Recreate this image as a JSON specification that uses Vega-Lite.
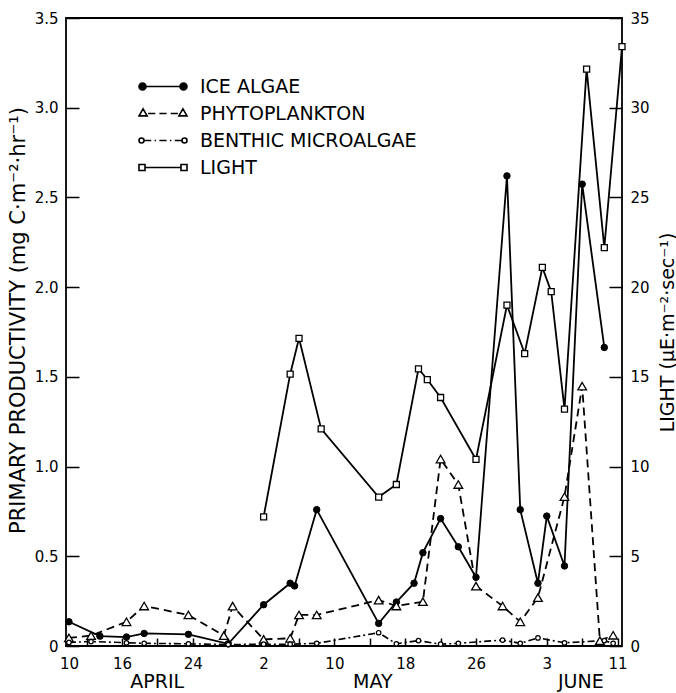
{
  "$schema": "https://vega.github.io/schema/vega-lite/v6.json",
  "width": 556,
  "height": 628,
  "autosize": "none",
  "padding": {"left": 66, "top": 18, "right": 54, "bottom": 47},
  "background": "white",
  "config": {
    "view": {"stroke": "black", "strokeWidth": 1.8},
    "font": "DejaVu Sans",
    "axis": {
      "grid": false,
      "domain": false,
      "tickColor": "black",
      "tickWidth": 1.5,
      "labelColor": "black",
      "titleColor": "black",
      "labelFont": "DejaVu Sans",
      "titleFont": "DejaVu Sans",
      "labelFontWeight": "normal",
      "titleFontWeight": "normal",
      "labelFlush": false,
      "labelOverlap": false
    },
    "legend": {
      "orient": "none",
      "legendX": 72,
      "legendY": 55,
      "padding": 0,
      "labelFont": "DejaVu Sans",
      "labelFontSize": 19,
      "labelColor": "black",
      "labelLimit": 0,
      "symbolSize": 2304,
      "clipHeight": 27,
      "rowPadding": 0,
      "labelOffset": 12,
      "symbolOffset": 0
    }
  },
  "datasets": {
    "obs": [
      {"date": "1980-04-10T00:00:00Z", "series": "ICE ALGAE", "value": 0.135},
      {"date": "1980-04-13T12:00:00Z", "series": "ICE ALGAE", "value": 0.055},
      {"date": "1980-04-16T12:00:00Z", "series": "ICE ALGAE", "value": 0.05},
      {"date": "1980-04-18T12:00:00Z", "series": "ICE ALGAE", "value": 0.07},
      {"date": "1980-04-23T12:00:00Z", "series": "ICE ALGAE", "value": 0.065},
      {"date": "1980-04-28T00:00:00Z", "series": "ICE ALGAE", "value": 0.012},
      {"date": "1980-05-02T00:00:00Z", "series": "ICE ALGAE", "value": 0.23},
      {"date": "1980-05-05T00:00:00Z", "series": "ICE ALGAE", "value": 0.35},
      {"date": "1980-05-05T12:00:00Z", "series": "ICE ALGAE", "value": 0.335},
      {"date": "1980-05-08T00:00:00Z", "series": "ICE ALGAE", "value": 0.76},
      {"date": "1980-05-15T00:00:00Z", "series": "ICE ALGAE", "value": 0.126},
      {"date": "1980-05-17T00:00:00Z", "series": "ICE ALGAE", "value": 0.245},
      {"date": "1980-05-19T00:00:00Z", "series": "ICE ALGAE", "value": 0.35},
      {"date": "1980-05-20T00:00:00Z", "series": "ICE ALGAE", "value": 0.52},
      {"date": "1980-05-22T00:00:00Z", "series": "ICE ALGAE", "value": 0.71},
      {"date": "1980-05-24T00:00:00Z", "series": "ICE ALGAE", "value": 0.553},
      {"date": "1980-05-26T00:00:00Z", "series": "ICE ALGAE", "value": 0.383},
      {"date": "1980-05-29T12:00:00Z", "series": "ICE ALGAE", "value": 2.62},
      {"date": "1980-05-31T00:00:00Z", "series": "ICE ALGAE", "value": 0.76},
      {"date": "1980-06-02T00:00:00Z", "series": "ICE ALGAE", "value": 0.35},
      {"date": "1980-06-03T00:00:00Z", "series": "ICE ALGAE", "value": 0.724},
      {"date": "1980-06-05T00:00:00Z", "series": "ICE ALGAE", "value": 0.446},
      {"date": "1980-06-07T00:00:00Z", "series": "ICE ALGAE", "value": 2.574},
      {"date": "1980-06-09T12:00:00Z", "series": "ICE ALGAE", "value": 1.664},

      {"date": "1980-04-10T00:00:00Z", "series": "PHYTOPLANKTON", "value": 0.045},
      {"date": "1980-04-12T12:00:00Z", "series": "PHYTOPLANKTON", "value": 0.058},
      {"date": "1980-04-16T12:00:00Z", "series": "PHYTOPLANKTON", "value": 0.135},
      {"date": "1980-04-18T12:00:00Z", "series": "PHYTOPLANKTON", "value": 0.223},
      {"date": "1980-04-23T12:00:00Z", "series": "PHYTOPLANKTON", "value": 0.173},
      {"date": "1980-04-27T12:00:00Z", "series": "PHYTOPLANKTON", "value": 0.058},
      {"date": "1980-04-28T12:00:00Z", "series": "PHYTOPLANKTON", "value": 0.222},
      {"date": "1980-05-02T00:00:00Z", "series": "PHYTOPLANKTON", "value": 0.037},
      {"date": "1980-05-05T00:00:00Z", "series": "PHYTOPLANKTON", "value": 0.043},
      {"date": "1980-05-06T00:00:00Z", "series": "PHYTOPLANKTON", "value": 0.173},
      {"date": "1980-05-08T00:00:00Z", "series": "PHYTOPLANKTON", "value": 0.173},
      {"date": "1980-05-15T00:00:00Z", "series": "PHYTOPLANKTON", "value": 0.256},
      {"date": "1980-05-17T00:00:00Z", "series": "PHYTOPLANKTON", "value": 0.223},
      {"date": "1980-05-20T00:00:00Z", "series": "PHYTOPLANKTON", "value": 0.247},
      {"date": "1980-05-22T00:00:00Z", "series": "PHYTOPLANKTON", "value": 1.042},
      {"date": "1980-05-24T00:00:00Z", "series": "PHYTOPLANKTON", "value": 0.9},
      {"date": "1980-05-26T00:00:00Z", "series": "PHYTOPLANKTON", "value": 0.334},
      {"date": "1980-05-29T00:00:00Z", "series": "PHYTOPLANKTON", "value": 0.223},
      {"date": "1980-05-31T00:00:00Z", "series": "PHYTOPLANKTON", "value": 0.135},
      {"date": "1980-06-02T00:00:00Z", "series": "PHYTOPLANKTON", "value": 0.27},
      {"date": "1980-06-05T00:00:00Z", "series": "PHYTOPLANKTON", "value": 0.832},
      {"date": "1980-06-07T00:00:00Z", "series": "PHYTOPLANKTON", "value": 1.448},
      {"date": "1980-06-09T00:00:00Z", "series": "PHYTOPLANKTON", "value": 0.03},
      {"date": "1980-06-10T12:00:00Z", "series": "PHYTOPLANKTON", "value": 0.06},

      {"date": "1980-04-10T00:00:00Z", "series": "BENTHIC MICROALGAE", "value": 0.02},
      {"date": "1980-04-12T12:00:00Z", "series": "BENTHIC MICROALGAE", "value": 0.025},
      {"date": "1980-04-16T12:00:00Z", "series": "BENTHIC MICROALGAE", "value": 0.018},
      {"date": "1980-04-18T12:00:00Z", "series": "BENTHIC MICROALGAE", "value": 0.015},
      {"date": "1980-04-23T12:00:00Z", "series": "BENTHIC MICROALGAE", "value": 0.012},
      {"date": "1980-04-28T00:00:00Z", "series": "BENTHIC MICROALGAE", "value": 0.008},
      {"date": "1980-05-02T00:00:00Z", "series": "BENTHIC MICROALGAE", "value": 0.01},
      {"date": "1980-05-05T00:00:00Z", "series": "BENTHIC MICROALGAE", "value": 0.01},
      {"date": "1980-05-08T00:00:00Z", "series": "BENTHIC MICROALGAE", "value": 0.015},
      {"date": "1980-05-15T00:00:00Z", "series": "BENTHIC MICROALGAE", "value": 0.074},
      {"date": "1980-05-17T00:00:00Z", "series": "BENTHIC MICROALGAE", "value": 0.012},
      {"date": "1980-05-19T12:00:00Z", "series": "BENTHIC MICROALGAE", "value": 0.03},
      {"date": "1980-05-22T00:00:00Z", "series": "BENTHIC MICROALGAE", "value": 0.01},
      {"date": "1980-05-24T00:00:00Z", "series": "BENTHIC MICROALGAE", "value": 0.015},
      {"date": "1980-05-29T00:00:00Z", "series": "BENTHIC MICROALGAE", "value": 0.033},
      {"date": "1980-05-31T00:00:00Z", "series": "BENTHIC MICROALGAE", "value": 0.015},
      {"date": "1980-06-02T00:00:00Z", "series": "BENTHIC MICROALGAE", "value": 0.045},
      {"date": "1980-06-05T00:00:00Z", "series": "BENTHIC MICROALGAE", "value": 0.018},
      {"date": "1980-06-09T12:00:00Z", "series": "BENTHIC MICROALGAE", "value": 0.03},
      {"date": "1980-06-10T12:00:00Z", "series": "BENTHIC MICROALGAE", "value": 0.015},

      {"date": "1980-05-02T00:00:00Z", "series": "LIGHT", "value": 7.2},
      {"date": "1980-05-05T00:00:00Z", "series": "LIGHT", "value": 15.15},
      {"date": "1980-05-06T00:00:00Z", "series": "LIGHT", "value": 17.15},
      {"date": "1980-05-08T12:00:00Z", "series": "LIGHT", "value": 12.1},
      {"date": "1980-05-15T00:00:00Z", "series": "LIGHT", "value": 8.3},
      {"date": "1980-05-17T00:00:00Z", "series": "LIGHT", "value": 9.0},
      {"date": "1980-05-19T12:00:00Z", "series": "LIGHT", "value": 15.45},
      {"date": "1980-05-20T12:00:00Z", "series": "LIGHT", "value": 14.85},
      {"date": "1980-05-22T00:00:00Z", "series": "LIGHT", "value": 13.85},
      {"date": "1980-05-26T00:00:00Z", "series": "LIGHT", "value": 10.4},
      {"date": "1980-05-29T12:00:00Z", "series": "LIGHT", "value": 19.0},
      {"date": "1980-05-31T12:00:00Z", "series": "LIGHT", "value": 16.3},
      {"date": "1980-06-02T12:00:00Z", "series": "LIGHT", "value": 21.1},
      {"date": "1980-06-03T12:00:00Z", "series": "LIGHT", "value": 19.75},
      {"date": "1980-06-05T00:00:00Z", "series": "LIGHT", "value": 13.2},
      {"date": "1980-06-07T12:00:00Z", "series": "LIGHT", "value": 32.15},
      {"date": "1980-06-09T12:00:00Z", "series": "LIGHT", "value": 22.2},
      {"date": "1980-06-11T12:00:00Z", "series": "LIGHT", "value": 33.4}
    ]
  },
  "layer": [
    {
      "data": {"name": "obs"},
      "transform": [{"filter": "datum.series !== 'LIGHT'"}],
      "encoding": {
        "x": {
          "field": "date",
          "type": "temporal",
          "scale": {
            "type": "utc",
            "domain": [
              {"year": 1980, "month": 4, "date": 9, "hours": 16, "utc": true},
              {"year": 1980, "month": 6, "date": 11, "hours": 12, "utc": true}
            ]
          },
          "axis": {
            "orient": "bottom",
            "title": null,
            "values": [
              {"year": 1980, "month": 4, "date": 10, "utc": true},
              {"year": 1980, "month": 4, "date": 12, "utc": true},
              {"year": 1980, "month": 4, "date": 16, "utc": true},
              {"year": 1980, "month": 4, "date": 20, "utc": true},
              {"year": 1980, "month": 4, "date": 24, "utc": true},
              {"year": 1980, "month": 4, "date": 28, "utc": true},
              {"year": 1980, "month": 5, "date": 2, "utc": true},
              {"year": 1980, "month": 5, "date": 6, "utc": true},
              {"year": 1980, "month": 5, "date": 10, "utc": true},
              {"year": 1980, "month": 5, "date": 14, "utc": true},
              {"year": 1980, "month": 5, "date": 18, "utc": true},
              {"year": 1980, "month": 5, "date": 22, "utc": true},
              {"year": 1980, "month": 5, "date": 26, "utc": true},
              {"year": 1980, "month": 5, "date": 30, "utc": true},
              {"year": 1980, "month": 6, "date": 3, "utc": true},
              {"year": 1980, "month": 6, "date": 7, "utc": true},
              {"year": 1980, "month": 6, "date": 11, "utc": true}
            ],
            "tickSize": -8,
            "labelPadding": 18,
            "labelFontSize": 15,
            "labelAngle": 0,
            "labelBaseline": "top",
            "labelExpr": "((utcmonth(datum.value) == 3 && (utcdate(datum.value) == 10 || utcdate(datum.value) == 16 || utcdate(datum.value) == 24)) || (utcmonth(datum.value) == 4 && (utcdate(datum.value) - 2) % 8 == 0) || (utcmonth(datum.value) == 5 && (utcdate(datum.value) == 3 || utcdate(datum.value) == 11))) ? utcFormat(datum.value, '%-d') : ''"
          }
        },
        "y": {
          "field": "value",
          "type": "quantitative",
          "scale": {"domain": [0, 3.5], "nice": false},
          "axis": {
            "orient": "left",
            "values": [0, 0.5, 1, 1.5, 2, 2.5, 3, 3.5],
            "tickSize": -13,
            "labelPadding": 21,
            "labelFontSize": 15,
            "labelExpr": "datum.value === 0 ? '0' : format(datum.value, '.1f')",
            "title": "PRIMARY PRODUCTIVITY (mg C·m⁻²·hr⁻¹)",
            "titleFontSize": 21,
            "titleAngle": 270,
            "titleX": -48,
            "titleY": 302,
            "titleAlign": "center",
            "titleBaseline": "middle"
          }
        }
      },
      "layer": [
        {
          "transform": [{"filter": "datum.series === 'ICE ALGAE'"}],
          "mark": {"type": "line", "strokeWidth": 1.8},
          "encoding": {
            "color": {
              "field": "series",
              "type": "nominal",
              "scale": {
                "domain": ["ICE ALGAE", "PHYTOPLANKTON", "BENTHIC MICROALGAE", "LIGHT"],
                "range": ["black", "black", "black", "black"]
              },
              "legend": {
                "title": null,
                "encoding": {
                  "symbols": {
                    "shape": {"value": {"expr": "datum.value === 'ICE ALGAE' ? 'M-0.708,0L0.708,0M-1,0A0.146,0.146,0,1,0,-0.708,0A0.146,0.146,0,1,0,-1,0ZM0.708,0A0.146,0.146,0,1,0,1,0A0.146,0.146,0,1,0,0.708,0Z' : datum.value === 'PHYTOPLANKTON' ? 'M-1,0.1L-0.83,-0.19L-0.66,0.1ZM0.66,0.1L0.83,-0.19L1,0.1ZM-0.62,0L-0.32,0M-0.15,0L0.15,0M0.32,0L0.62,0' : datum.value === 'BENTHIC MICROALGAE' ? 'M-1,0A0.104,0.104,0,1,0,-0.792,0A0.104,0.104,0,1,0,-1,0ZM0.792,0A0.104,0.104,0,1,0,1,0A0.104,0.104,0,1,0,0.792,0ZM-0.79,0L-0.49,0M-0.35,0L-0.29,0M-0.15,0L0.15,0M0.29,0L0.35,0M0.49,0L0.79,0' : 'M-1,-0.125L-0.75,-0.125L-0.75,0.125L-1,0.125ZM0.75,-0.125L1,-0.125L1,0.125L0.75,0.125ZM-0.75,0L0.75,0'"}},
                    "fill": {"value": {"expr": "datum.value === 'ICE ALGAE' ? 'black' : 'white'"}},
                    "stroke": {"value": "black"},
                    "strokeWidth": {"value": 1.6},
                    "size": {"value": 2304},
                    "opacity": {"value": 1}
                  }
                }
              }
            }
          }
        },
        {
          "transform": [{"filter": "datum.series === 'PHYTOPLANKTON'"}],
          "mark": {"type": "line", "color": "black", "strokeWidth": 1.8, "strokeDash": [8, 5]}
        },
        {
          "transform": [{"filter": "datum.series === 'BENTHIC MICROALGAE'"}],
          "mark": {"type": "line", "color": "black", "strokeWidth": 1.6, "strokeDash": [7, 3, 2, 3]}
        },
        {
          "transform": [{"filter": "datum.series === 'ICE ALGAE'"}],
          "mark": {"type": "point", "shape": "circle", "filled": true, "fill": "black", "stroke": "black", "strokeWidth": 1, "size": 42, "opacity": 1}
        },
        {
          "transform": [{"filter": "datum.series === 'PHYTOPLANKTON'"}],
          "mark": {"type": "point", "shape": "triangle-up", "filled": true, "fill": "white", "stroke": "black", "strokeWidth": 1.3, "size": 75, "opacity": 1}
        },
        {
          "transform": [{"filter": "datum.series === 'BENTHIC MICROALGAE'"}],
          "mark": {"type": "point", "shape": "circle", "filled": true, "fill": "white", "stroke": "black", "strokeWidth": 1.2, "size": 20, "opacity": 1}
        }
      ]
    },
    {
      "data": {"name": "obs"},
      "transform": [{"filter": "datum.series === 'LIGHT'"}],
      "encoding": {
        "x": {
          "field": "date",
          "type": "temporal",
          "scale": {
            "type": "utc",
            "domain": [
              {"year": 1980, "month": 4, "date": 9, "hours": 16, "utc": true},
              {"year": 1980, "month": 6, "date": 11, "hours": 12, "utc": true}
            ]
          },
          "axis": {
            "orient": "bottom",
            "title": null,
            "ticks": false,
            "domain": false,
            "values": [
              {"year": 1980, "month": 4, "date": 19, "hours": 22, "utc": true},
              {"year": 1980, "month": 5, "date": 14, "hours": 7, "utc": true},
              {"year": 1980, "month": 6, "date": 6, "hours": 19, "utc": true}
            ],
            "labelPadding": 26,
            "labelFontSize": 19,
            "labelAngle": 0,
            "labelBaseline": "top",
            "labelExpr": "upper(utcFormat(datum.value, '%B'))"
          }
        },
        "y": {
          "field": "value",
          "type": "quantitative",
          "scale": {"domain": [0, 35], "nice": false},
          "axis": {
            "orient": "right",
            "values": [0, 5, 10, 15, 20, 25, 30, 35],
            "tickSize": -13,
            "labelPadding": 21,
            "labelFontSize": 15,
            "title": "LIGHT (μE·m⁻²·sec⁻¹)",
            "titleFontSize": 19,
            "titleAngle": 270,
            "titleX": 45,
            "titleY": 314,
            "titleAlign": "center",
            "titleBaseline": "middle"
          }
        }
      },
      "layer": [
        {"mark": {"type": "line", "color": "black", "strokeWidth": 1.8}},
        {"mark": {"type": "point", "shape": "square", "filled": true, "fill": "white", "stroke": "black", "strokeWidth": 1.3, "size": 36, "opacity": 1}}
      ]
    }
  ],
  "resolve": {"scale": {"x": "independent", "y": "independent"}}
}
